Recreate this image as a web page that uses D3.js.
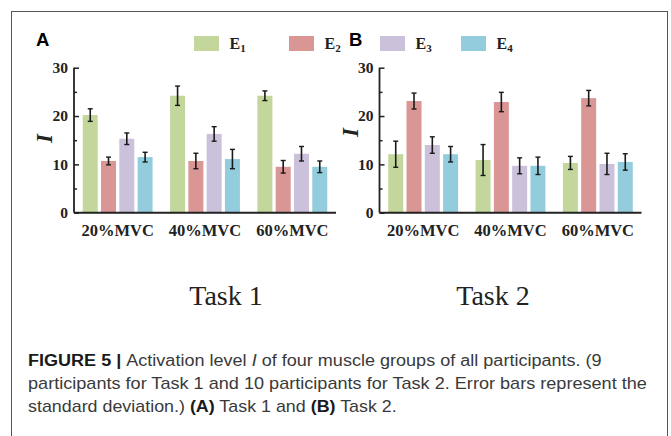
<!DOCTYPE html>
<html>
<head>
<meta charset="utf-8">
<script src="https://cdn.jsdelivr.net/npm/d3@7"></script>
<style>
  html, body { margin: 0; padding: 0; background: #fff; }
  svg { display: block; }
</style>
</head>
<body>
<svg id="chart" width="671" height="436"></svg>
<script>
// ---- data ----
const groups = ["20%MVC", "40%MVC", "60%MVC"];
const seriesNames = ["E1", "E2", "E3", "E4"];
const seriesColors = ["#c3d69b", "#d99694", "#ccc1da", "#93cddd"];
const task1Means = [[20.2, 10.7, 15.3, 11.5], [24.2, 10.7, 16.3, 11.1], [24.2, 9.5, 12.2, 9.5]];
const task1SD    = [[1.3, 0.8, 1.2, 1.0], [2.0, 1.6, 1.5, 2.0], [1.0, 1.3, 1.5, 1.2]];
const task2Means = [[12.1, 23.1, 14.0, 12.1], [10.9, 22.9, 9.7, 9.7], [10.3, 23.7, 10.1, 10.5]];
const task2SD    = [[2.7, 1.65, 1.7, 1.6], [3.2, 2.0, 1.65, 1.8], [1.35, 1.6, 2.2, 1.7]];
const majorTicks = [0, 10, 20, 30];
const minorTicks = [5, 15, 25];
const panelLetters = ["A", "B"];
const taskTitles = ["Task 1", "Task 2"];

const svg = d3.select("#chart");
const serif = "'Liberation Serif', 'Times New Roman', serif";
const sans = "'Liberation Sans', Arial, sans-serif";

// frame
svg.append("rect").attr("x", 11.5).attr("y", 11.5).attr("width", 656).attr("height", 440)
  .attr("fill", "none").attr("stroke", "#555").attr("stroke-width", 1);

const y = d3.scaleLinear().domain([0, 30]).range([212.7, 67.7]);

function panel(x0, means, sds, letter, letterX, yLabelY) {
  const g = svg.append("g");
  const x = d3.scaleBand().domain(groups).range([x0, x0 + 262]).paddingInner(0.2).paddingOuter(0.1);
  const xs = d3.scaleBand().domain(seriesNames).range([0, x.bandwidth()]).paddingInner(0.18).paddingOuter(0);

  // bars
  groups.forEach((grp, gi) => {
    const gg = g.append("g").attr("transform", `translate(${x(grp)},0)`);
    seriesNames.forEach((s, si) => {
      const v = means[gi][si], sd = sds[gi][si];
      gg.append("rect")
        .attr("x", xs(s)).attr("width", xs.bandwidth())
        .attr("y", y(v)).attr("height", y(0) - y(v))
        .attr("fill", seriesColors[si]);
      const cx = xs(s) + xs.bandwidth() / 2;
      gg.append("line").attr("x1", cx).attr("x2", cx).attr("y1", y(v + sd)).attr("y2", y(v - sd))
        .attr("stroke", "#1a1a1a").attr("stroke-width", 1.6);
      [v + sd, v - sd].forEach(e => {
        gg.append("line").attr("x1", cx - 2.5).attr("x2", cx + 2.5).attr("y1", y(e)).attr("y2", y(e))
          .attr("stroke", "#1a1a1a").attr("stroke-width", 1.4);
      });
    });
  });

  // y axis
  const yAxis = d3.axisRight(y).tickValues(majorTicks).tickSize(5).tickFormat("");
  const ya = g.append("g").attr("transform", `translate(${x0},0)`).call(yAxis);
  ya.select(".domain").attr("d", `M0,${y(30)}V${y(0)}`).attr("stroke", "#222").attr("stroke-width", 1.8);
  ya.selectAll(".tick line").attr("stroke", "#222").attr("stroke-width", 1.5);
  const yMinor = d3.axisRight(y).tickValues(minorTicks).tickSize(3).tickFormat("");
  const ym = g.append("g").attr("transform", `translate(${x0},0)`).call(yMinor);
  ym.select(".domain").remove();
  ym.selectAll(".tick line").attr("stroke", "#222").attr("stroke-width", 1.5);
  // tick labels
  g.selectAll(".ylab").data(majorTicks).enter().append("text")
    .attr("x", x0 - 6).attr("y", d => y(d)).attr("dy", "0.35em")
    .attr("text-anchor", "end").attr("font-family", serif).attr("font-weight", "bold")
    .attr("font-size", 15.5).attr("fill", "#222").text(d => d);

  // x axis line
  g.append("line").attr("x1", x0).attr("x2", x0 + 262).attr("y1", y(0)).attr("y2", y(0))
    .attr("stroke", "#222").attr("stroke-width", 2);
  // x labels
  g.selectAll(".xlab").data(groups).enter().append("text")
    .attr("x", d => x(d) + x.bandwidth() / 2).attr("y", 236)
    .attr("text-anchor", "middle").attr("font-family", serif).attr("font-weight", "bold")
    .attr("font-size", 16.5).attr("fill", "#222").text(d => d);

  // y title
  g.append("text").attr("transform", `translate(${x0 - 30},${yLabelY}) rotate(-90)`)
    .attr("text-anchor", "middle").attr("dy", "0.35em")
    .attr("font-family", serif).attr("font-weight", "bold").attr("font-style", "italic")
    .attr("font-size", 23).attr("fill", "#222").text("I");

  // panel letter
  g.append("text").attr("x", letterX).attr("y", 45.5)
    .attr("font-family", sans).attr("font-weight", "bold").attr("font-size", 18.5)
    .attr("fill", "#000").text(letter);
}

panel(74, task1Means, task1SD, panelLetters[0], 36, 138.5);
panel(379.5, task2Means, task2SD, panelLetters[1], 349, 132.5);

// legend
const legendX = [194, 289, 380, 461];
seriesNames.forEach((s, i) => {
  svg.append("rect").attr("x", legendX[i]).attr("y", 36).attr("width", 25).attr("height", 15)
    .attr("fill", seriesColors[i]);
  const t = svg.append("text").attr("x", legendX[i] + 35.5).attr("y", 49)
    .attr("font-family", serif).attr("font-weight", "bold").attr("font-size", 16).attr("fill", "#222");
  t.append("tspan").text(s[0]);
  t.append("tspan").attr("font-size", 11).attr("dy", 3).text(s.slice(1));
});

// task titles
[226, 493].forEach((cx, i) => {
  svg.append("text").attr("x", cx).attr("y", 305).attr("text-anchor", "middle")
    .attr("font-family", serif).attr("font-size", 28).attr("fill", "#222").text(taskTitles[i]);
});

// caption
const captionLines = [
  { parts: [["FIGURE 5 | ", true], ["Activation level ", false], ["I", false, true], [" of four muscle groups of all participants. (9", false]], y: 366.5, end: 602 },
  { parts: [["participants for Task 1 and 10 participants for Task 2. Error bars represent the", false]], y: 389.5, end: 647 },
  { parts: [["standard deviation.) ", false], ["(A)", true], [" Task 1 and ", false], ["(B)", true], [" Task 2.", false]], y: 412.5, end: 397 }
];
captionLines.forEach(line => {
  const t = svg.append("text").attr("x", 28).attr("y", line.y)
    .attr("font-family", sans).attr("font-size", 16).attr("fill", "#3a3a3a");
  line.parts.forEach(p => {
    const ts = t.append("tspan").text(p[0]);
    if (p[1]) ts.attr("font-weight", "bold").attr("fill", "#1a1a1a");
    if (p[2]) ts.attr("font-style", "italic");
  });
  const w = t.node().getComputedTextLength();
  const k = (line.end - 28) / w;
  t.attr("transform", `translate(28,0) scale(${k},1) translate(-28,0)`);
});
</script>
</body>
</html>
